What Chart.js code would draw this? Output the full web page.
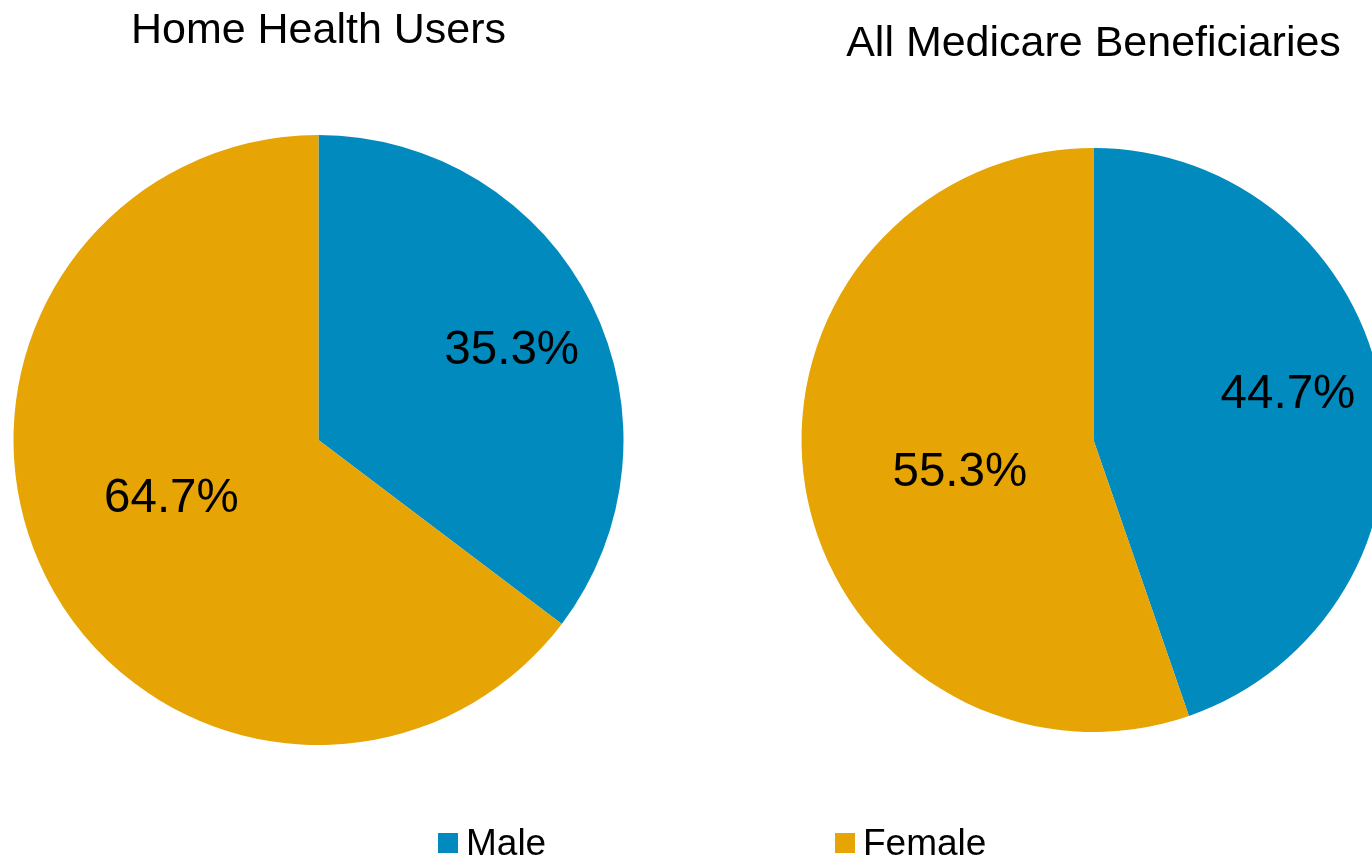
<!DOCTYPE html>
<html>
<head>
<meta charset="utf-8">
<script src="https://cdn.jsdelivr.net/npm/chart.js@4.4.1/dist/chart.umd.min.js"></script>
<style>
  html, body { margin: 0; padding: 0; width: 1372px; height: 860px; overflow: hidden; background: #ffffff; }
  .wrap { position: absolute; }
  #legend { position: absolute; top: 823px; left: 0; width: 1372px; height: 40px;
            font-family: "Liberation Sans", Arial, sans-serif; font-size: 37px; color: #000; }
  .item { position: absolute; top: 0; display: flex; align-items: center; height: 40px; }
  .sw { width: 20px; height: 20px; margin-right: 8px; }
</style>
</head>
<body>
<div class="wrap" style="left:0;top:0;"><canvas id="c1" width="640" height="860"></canvas></div>
<div class="wrap" style="left:700px;top:0;"><canvas id="c2" width="800" height="860"></canvas></div>
<div id="legend"></div>
<script>
// ---- data ----
const categories = ["Male", "Female"];
const homeHealthUsers = [35.3, 64.7];
const allBeneficiaries = [44.7, 55.3];
const chartTitles = ["Home Health Users", "All Medicare Beneficiaries"];

// ---- style ----
const colors = ["#008ABE", "#E6A405"];
const FONT = '"Liberation Sans", Arial, sans-serif';
// label placement: [fraction along slice angle, fraction of radius]
const labelPlace1 = [[0.51, 0.70], [0.523, 0.517]];
const labelPlace2 = [[0.475, 0.685], [0.482, 0.47]];

const pctLabels = {
  id: 'pctLabels',
  afterDatasetsDraw(chart, args, opts) {
    const ctx = chart.ctx;
    const meta = chart.getDatasetMeta(0);
    ctx.save();
    ctx.font = '47.5px ' + FONT;
    ctx.fillStyle = '#000';
    ctx.textAlign = 'center';
    ctx.textBaseline = 'middle';
    meta.data.forEach((arc, i) => {
      const p = arc.getProps(['x', 'y', 'startAngle', 'endAngle', 'outerRadius'], true);
      const pl = opts.place[i];
      const a = p.startAngle + (p.endAngle - p.startAngle) * pl[0];
      const r = p.outerRadius * pl[1];
      const v = chart.data.datasets[0].data[i];
      ctx.fillText(v.toFixed(1) + '%', p.x + Math.cos(a) * r, p.y + Math.sin(a) * r + 2);
    });
    ctx.restore();
  }
};

function makePie(id, values, title, pad, titlePad, place) {
  return new Chart(document.getElementById(id), {
    type: 'pie',
    data: {
      labels: categories,
      datasets: [{ data: values, backgroundColor: colors, borderWidth: 0 }]
    },
    options: {
      responsive: false,
      animation: false,
      devicePixelRatio: 1,
      layout: { padding: pad },
      plugins: {
        legend: { display: false },
        tooltip: { enabled: false },
        title: {
          display: true, text: title, color: '#000',
          font: { family: FONT, size: 43, weight: 'normal', lineHeight: 1.2 },
          padding: titlePad
        },
        pctLabels: { place: place }
      }
    },
    plugins: [pctLabels]
  });
}

makePie('c1', homeHealthUsers, chartTitles[0],
  { left: 13.5, right: 16.5, top: 0, bottom: 115 },
  { top: 5, bottom: 78.4 }, labelPlace1);
makePie('c2', allBeneficiaries, chartTitles[1],
  { left: 99, right: 112, top: 0, bottom: 128 },
  { top: 18, bottom: 78.4 }, labelPlace2);

// ---- legend ----
const legend = document.getElementById('legend');
const legendX = [438, 835];
categories.forEach((c, i) => {
  const it = document.createElement('div');
  it.className = 'item';
  it.style.left = legendX[i] + 'px';
  const sw = document.createElement('div');
  sw.className = 'sw';
  sw.style.background = colors[i];
  const t = document.createElement('span');
  t.textContent = c;
  it.appendChild(sw); it.appendChild(t);
  legend.appendChild(it);
});
</script>
</body>
</html>
